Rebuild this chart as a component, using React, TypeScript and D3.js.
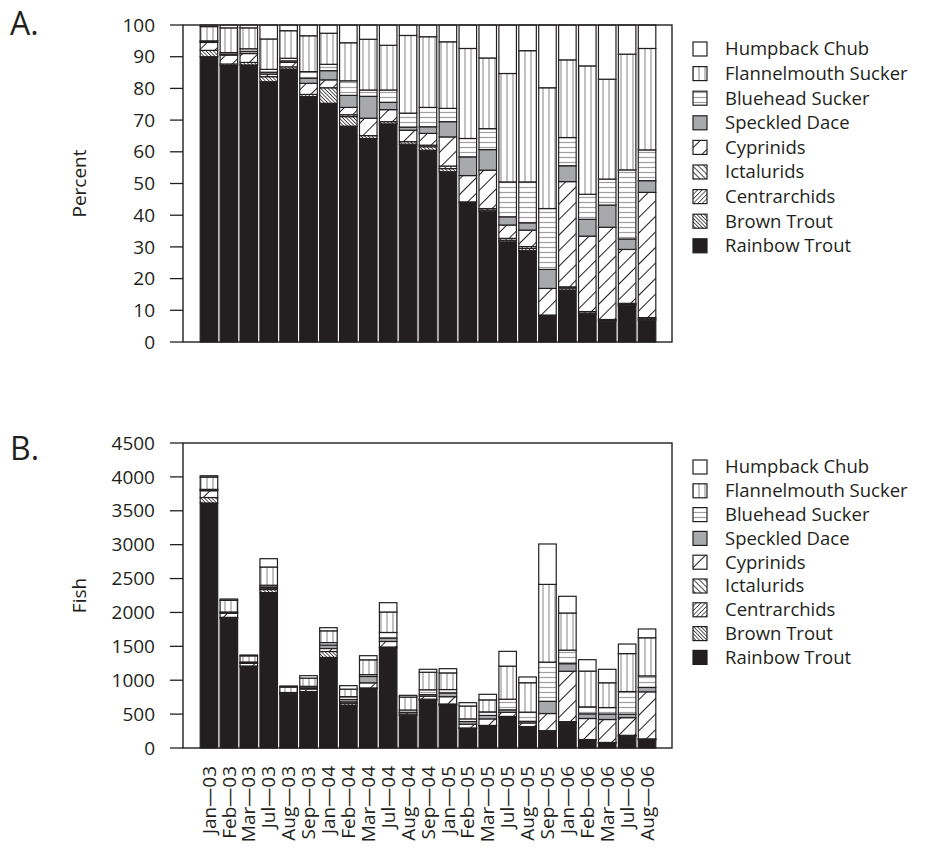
import React from "react";
import * as d3 from "d3";

const months = ["Jan—03","Feb—03","Mar—03","Jul—03","Aug—03","Sep—03","Jan—04","Feb—04","Mar—04","Jul—04","Aug—04","Sep—04","Jan—05","Feb—05","Mar—05","Jul—05","Aug—05","Sep—05","Jan—06","Feb—06","Mar—06","Jul—06","Aug—06"];

const species = ["Rainbow Trout","Brown Trout","Centrarchids","Ictalurids","Cyprinids","Speckled Dace","Bluehead Sucker","Flannelmouth Sucker","Humpback Chub"];

// Panel A percentages (bottom to top)
const rainbowTrout = [90,87.2,87.4,82.1,86.1,77.4,75.3,68.1,64.2,68.8,62.4,60.5,53.7,43.9,41.1,31.6,28.8,8.3,16.4,8.7,6.4,11.4,6.9];
const brownTrout = [2,0.5,0.8,1.6,0.7,0.7,4.9,3.0,0.9,0.7,0.8,1.1,1.0,0.3,0.5,0.5,0.7,0.2,0.6,0.4,0.4,0.4,0.4];
const centrarchids = [0,0,0,0,0,0,0,0,0,0,0,0,0,0,0,0,0.6,0,0,0,0,0,0];
const ictalurids = [0,0,0,0,0,0,0,0.6,0,0,0,0.5,0.8,0,0.5,0.6,0,0,0.4,0.5,0.3,0.4,0.4];
const cyprinids = [2.5,2.8,2.8,0.8,1.4,3.5,2.5,2.3,5.5,3.8,3.6,3.7,9.2,8.3,12.1,4.2,5.2,8.4,33.2,23.8,29.1,17.0,39.5];
const speckledDace = [0.3,0.3,0.7,0.6,0.5,1.6,2.9,3.8,6.9,2.3,1.0,2.1,4.8,5.9,6.5,2.6,2.3,6.0,5.0,5.3,7.0,3.3,3.7];
const blueheadSucker = [0.2,0.5,0.8,0.9,0.8,2.1,2.0,4.6,2.0,3.9,4.4,6.1,4.2,5.8,6.6,11.0,12.9,19.2,8.9,7.9,8.2,21.8,9.7];
const flannelmouthSucker = [4.5,7.8,6.6,9.6,8.7,11.3,9.8,12.0,16.0,14.1,24.5,22.3,21.0,28.4,22.3,34.2,41.4,38.1,24.5,40.5,31.5,36.5,32.0];
const humpbackChub = [0.5,0.9,0.9,4.4,1.8,3.4,2.6,5.6,4.5,6.4,3.3,3.7,5.3,7.4,10.4,15.3,8.1,19.8,11.0,12.9,17.1,9.2,7.4];

// Panel B: total fish per sample
const totalFish = [4017,2198,1372,2793,915,1067,1775,920,1362,2144,777,1161,1170,669,792,1426,1048,3010,2238,1303,1161,1534,1756];

const percentTicks = [0,10,20,30,40,50,60,70,80,90,100];
const fishTicks = [0,500,1000,1500,2000,2500,3000,3500,4000,4500];

const seriesValues = [rainbowTrout, brownTrout, centrarchids, ictalurids, cyprinids, speckledDace, blueheadSucker, flannelmouthSucker, humpbackChub];

const FONT = "'Open Sans', 'Noto Sans', sans-serif";
const INK = "#231f20";

const fills: Record<string, string> = {
  "Rainbow Trout": INK,
  "Brown Trout": "url(#pBT)",
  "Centrarchids": "url(#pCent)",
  "Ictalurids": "url(#pIct)",
  "Cyprinids": "url(#pCyp)",
  "Speckled Dace": "#a7a9ac",
  "Bluehead Sucker": "url(#pBH)",
  "Flannelmouth Sucker": "url(#pFM)",
  "Humpback Chub": "#ffffff",
};

const frameX0 = 183, frameX1 = 672;

function Panel({ stacked, y, ticks, letter, letterY, yLabel, legendY0, legendStep, showX, x }: any) {
  const [y0, y1] = y.range();
  const labelMidY = (y0 + y1) / 2;
  const legendOrder = species.slice().reverse();
  return (
    <g>
      <text x={10} y={letterY} fontSize={32} fontFamily={FONT} fill={INK}>{letter}</text>
      <text transform={`translate(86,${labelMidY}) rotate(-90)`} textAnchor="middle" fontSize={19} fontFamily={FONT} fill={INK}>{yLabel}</text>
      {ticks.map((t: number) => (
        <g key={t}>
          <line x1={170} x2={frameX0} y1={y(t)} y2={y(t)} stroke={INK} strokeWidth={1.3} />
          <text x={155} y={y(t)} dy="0.35em" textAnchor="end" fontSize={19} fontFamily={FONT} fill={INK}>{t}</text>
        </g>
      ))}
      {stacked.map((layer: any) => (
        <g key={layer.key}>
          {layer.map((d: any, i: number) => {
            const h = y(d[0]) - y(d[1]);
            if (h <= 0) return null;
            return (
              <rect key={i} x={x(months[i])} width={x.bandwidth()} y={y(d[1])} height={h}
                fill={fills[layer.key]} stroke={INK} strokeWidth={1.2} />
            );
          })}
        </g>
      ))}
      <rect x={frameX0} y={y1} width={frameX1 - frameX0} height={y0 - y1} fill="none" stroke={INK} strokeWidth={1.4} />
      {legendOrder.map((s: string, k: number) => {
        const cy = legendY0 + k * legendStep;
        return (
          <g key={s}>
            <rect x={693} y={cy - 7} width={14} height={14} fill={fills[s]} stroke={INK} strokeWidth={1.2} />
            <text x={725} y={cy} dy="0.35em" fontSize={18.5} fontFamily={FONT} fill={INK}>{s}</text>
          </g>
        );
      })}
      {showX && months.map((m) => {
        const cx = (x(m) as number) + x.bandwidth() / 2;
        return (
          <text key={m} transform={`translate(${cx},766) rotate(-90)`} dy="0.35em" textAnchor="end" fontSize={19} fontFamily={FONT} fill={INK}>{m}</text>
        );
      })}
    </g>
  );
}

export default function App() {
  const rows = months.map((m, i) => {
    const r: any = { month: m };
    species.forEach((s, k) => (r[s] = seriesValues[k][i]));
    return r;
  });
  const rowsB = rows.map((r, i) => {
    const sum = d3.sum(species, (s) => r[s]);
    const o: any = { month: r.month };
    species.forEach((s) => (o[s] = (r[s] / sum) * totalFish[i]));
    return o;
  });
  const stack = d3.stack<any>().keys(species);
  const stackA = stack(rows);
  const stackB = stack(rowsB);

  const x = d3.scaleBand<string>().domain(months).range([199, 657]).paddingInner(0.12).paddingOuter(0.06);
  const yA = d3.scaleLinear().domain([0, 100]).range([342, 25]);
  const yB = d3.scaleLinear().domain([0, 4500]).range([748, 443]);

  return (
    <svg width={925} height={848} style={{ position: "absolute", left: 0, top: 0, background: "#fff" }}>
      <defs>
        <pattern id="pFM" patternUnits="userSpaceOnUse" width={6} height={6}>
          <rect width={6} height={6} fill="#fff" />
          <line x1={3} y1={0} x2={3} y2={6} stroke="#a0a0a0" strokeWidth={1.3} />
        </pattern>
        <pattern id="pBH" patternUnits="userSpaceOnUse" width={6} height={5}>
          <rect width={6} height={5} fill="#fff" />
          <line x1={0} y1={2.5} x2={6} y2={2.5} stroke="#a0a0a0" strokeWidth={1.2} />
        </pattern>
        <pattern id="pCyp" patternUnits="userSpaceOnUse" width={11} height={11} patternTransform="rotate(45)">
          <rect width={11} height={11} fill="#fff" />
          <line x1={0} y1={0} x2={0} y2={11} stroke={INK} strokeWidth={2} />
        </pattern>
        <pattern id="pIct" patternUnits="userSpaceOnUse" width={4} height={4} patternTransform="rotate(-45)">
          <rect width={4} height={4} fill="#fff" />
          <line x1={0} y1={0} x2={0} y2={4} stroke={INK} strokeWidth={1.6} />
        </pattern>
        <pattern id="pCent" patternUnits="userSpaceOnUse" width={3.2} height={3.2} patternTransform="rotate(45)">
          <rect width={3.2} height={3.2} fill="#fff" />
          <line x1={0} y1={0} x2={0} y2={3.2} stroke={INK} strokeWidth={1.4} />
        </pattern>
        <pattern id="pBT" patternUnits="userSpaceOnUse" width={2.6} height={2.6} patternTransform="rotate(-45)">
          <rect width={2.6} height={2.6} fill="#fff" />
          <line x1={0} y1={0} x2={0} y2={2.6} stroke={INK} strokeWidth={1.5} />
        </pattern>
      </defs>
      <Panel stacked={stackA} y={yA} ticks={percentTicks} letter="A." letterY={35} yLabel="Percent"
        legendY0={49} legendStep={24.6} showX={false} x={x} />
      <Panel stacked={stackB} y={yB} ticks={fishTicks} letter="B." letterY={460} yLabel="Fish"
        legendY0={467} legendStep={23.8} showX={true} x={x} />
    </svg>
  );
}
